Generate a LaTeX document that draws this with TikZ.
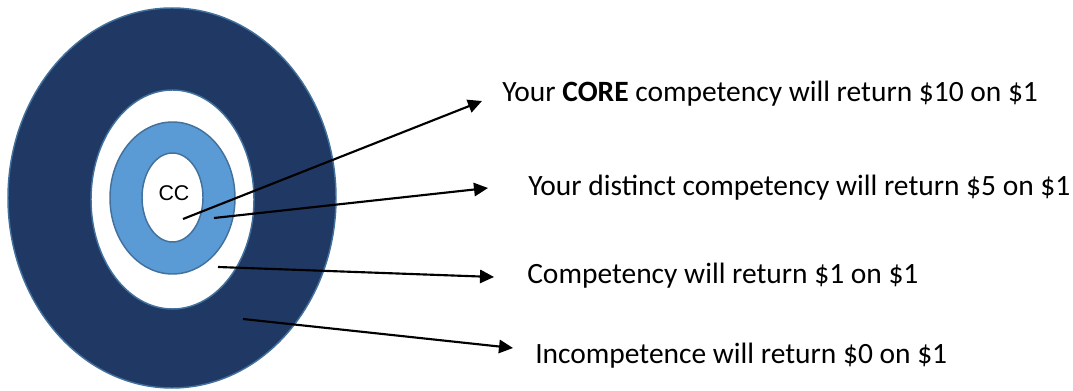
\documentclass[tikz,border=0pt]{standalone}
\usepackage{fontspec}
\setmainfont{Carlito}
\newfontfamily\arialfont{Liberation Sans}
\usetikzlibrary{shapes.geometric,arrows.meta}
\definecolor{navy}{HTML}{203864}
\definecolor{skyblue}{HTML}{5B9BD5}
\definecolor{rim}{HTML}{41719C}
\tikzstyle{ring}=[ellipse,draw=rim,line width=1.1pt,inner sep=0pt,outer sep=0pt]
\tikzstyle{claim}=[anchor=base west,inner sep=0pt,font=\fontsize{22.1}{26}\selectfont]
\tikzstyle{pointer}=[line width=1.6pt,-{Triangle[length=10.5pt,width=10pt]}]

\begin{document}
\begin{tikzpicture}[x=0.75pt,y=-0.75pt]
\useasboundingbox (0,0) rectangle (1073,391);
\node[ring,fill=navy,minimum width=246pt,minimum height=285pt] at (172,198) (outer) {};
\node[ring,fill=white,minimum width=122.25pt,minimum height=164.25pt] at (172.5,199.5) (gap) {};
\node[ring,fill=skyblue,minimum width=93.75pt,minimum height=114pt] at (172.5,198) (band) {};
\node[ring,fill=white,minimum width=45.75pt,minimum height=66.75pt] at (172.5,197.5) (core) {};
\node[font=\arialfont\fontsize{16}{18}\selectfont] at (174,193) (cc) {CC};
\node[claim] at (502,102) (t1) {Your \textbf{CORE} competency will return \$10 on \$1};
\node[claim] at (528,196) (t2) {Your distinct competency will return \$5 on \$1};
\node[claim] at (527,284) (t3) {Competency will return \$1 on \$1};
\node[claim] at (535,363) (t4) {Incompetence will return \$0 on \$1};
\coordinate (s1) at (183,219);
\coordinate (s2) at (214,218);
\coordinate (s3) at (218,267);
\coordinate (s4) at (243,319);
\coordinate (e1) at (482,101);
\coordinate (e2) at (488,188);
\coordinate (e3) at (494,277);
\coordinate (e4) at (513,348);
\draw[pointer] (s1) -- (e1);
\draw[pointer] (s2) -- (e2);
\draw[pointer] (s3) -- (e3);
\draw[pointer] (s4) -- (e4);
\end{tikzpicture}
\end{document}
